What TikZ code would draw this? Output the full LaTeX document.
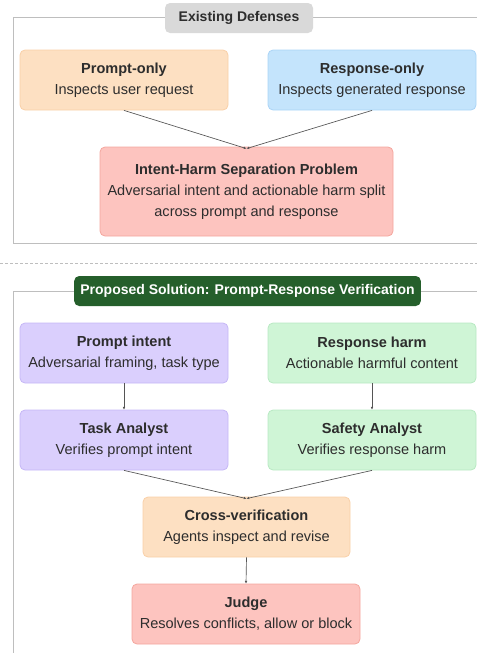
\documentclass[tikz,border=0pt]{standalone}
\usepackage{fontspec}
\setmainfont{Liberation Sans}
\usetikzlibrary{arrows.meta}

\definecolor{frameGray}{RGB}{190,190,190}
\definecolor{textDark}{RGB}{45,45,45}
\definecolor{titleGray}{RGB}{217,217,217}
\definecolor{peachFill}{RGB}{253,224,194}
\definecolor{peachLine}{RGB}{249,208,168}
\definecolor{blueFill}{RGB}{196,228,252}
\definecolor{blueLine}{RGB}{170,212,246}
\definecolor{pinkFill}{RGB}{253,196,191}
\definecolor{pinkLine}{RGB}{244,166,158}
\definecolor{lavFill}{RGB}{218,207,253}
\definecolor{lavLine}{RGB}{198,183,246}
\definecolor{greenFill}{RGB}{207,245,214}
\definecolor{greenLine}{RGB}{184,233,195}
\definecolor{darkGreen}{RGB}{37,95,43}
\definecolor{arrowGray}{RGB}{85,85,85}

\tikzset{
  card/.style={rounded corners=3.75pt, line width=0.6pt, align=center, inner sep=0pt,
    text=textDark, font=\fontsize{10.9}{15.75}\selectfont,
    execute at begin node={\rule{0pt}{13.5pt}}},
  titlebox/.style={rounded corners=3.75pt, inner sep=0pt, font=\bfseries\fontsize{10.5}{12}\selectfont},
  link/.style={draw=arrowGray, line width=0.5pt, -{Latex[length=2pt,width=2pt]}}
}

\begin{document}
\begin{tikzpicture}[x=0.75pt,y=0.75pt,yscale=-1,xscale=1]
\clip (0,0) rectangle (477,653);
\useasboundingbox (0,0) rectangle (477,653);

%Frame: existing defenses
\draw [color=frameGray, line width=0.75pt] (13.5,17) rectangle (495,243) ;
%Straight Lines: section divider
\draw [color=frameGray, line width=0.75pt, dash pattern={on 2.25pt off 1.5pt}] (0,263) -- (477,263) ;
%Frame: proposed solution
\draw [color=frameGray, line width=0.75pt] (13.5,291) rectangle (495,680) ;

% Title Nodes
\node [titlebox, fill=titleGray, text=textDark, minimum width=111pt, minimum height=22.5pt] (defTitle) at (239,18) {Existing Defenses};
\node [titlebox, fill=darkGreen, text=white, minimum width=260pt, minimum height=22.5pt] (solTitle) at (247.5,291) {Proposed Solution: Prompt-Response Verification};

% Defense Nodes
\node [card, fill=peachFill, draw=peachLine, minimum width=156pt, minimum height=45pt] (promptOnly) at (124,80) {\textbf{Prompt-only}\\Inspects user request};
\node [card, fill=blueFill, draw=blueLine, minimum width=156pt, minimum height=45pt] (respOnly) at (372,80) {\textbf{Response-only}\\Inspects generated response};
\node [card, fill=pinkFill, draw=pinkLine, minimum width=219.75pt, minimum height=66.75pt] (sepProb) at (246.5,191.5) {\textbf{Intent-Harm Separation Problem}\\Adversarial intent and actionable harm split\\across prompt and response};

% Solution Nodes
\node [card, fill=lavFill, draw=lavLine, minimum width=156pt, minimum height=45pt] (promptIntent) at (124,353) {\textbf{Prompt intent}\\Adversarial framing, task type};
\node [card, fill=greenFill, draw=greenLine, minimum width=156pt, minimum height=45pt] (respHarm) at (372,353) {\textbf{Response harm}\\Actionable harmful content};
\node [card, fill=lavFill, draw=lavLine, minimum width=156pt, minimum height=45pt] (taskAnalyst) at (124,440) {\textbf{Task Analyst}\\Verifies prompt intent};
\node [card, fill=greenFill, draw=greenLine, minimum width=156pt, minimum height=45pt] (safetyAnalyst) at (372,440) {\textbf{Safety Analyst}\\Verifies response harm};
\node [card, fill=peachFill, draw=peachLine, minimum width=155.25pt, minimum height=45pt] (crossVer) at (246.5,527) {\textbf{Cross-verification}\\Agents inspect and revise};
\node [card, fill=pinkFill, draw=pinkLine, minimum width=171pt, minimum height=45pt] (judge) at (246,614) {\textbf{Judge}\\Resolves conflicts, allow or block};

% Connectors
\draw [link] (promptOnly.south) -- ([yshift=1.5pt]sepProb.north) ;
\draw [link] (respOnly.south) -- ([yshift=1.5pt]sepProb.north) ;
\draw [link] (promptIntent.south) -- (taskAnalyst.north) ;
\draw [link] (respHarm.south) -- (safetyAnalyst.north) ;
\draw [link] (taskAnalyst.south) -- ([yshift=1.5pt]crossVer.north) ;
\draw [link] (safetyAnalyst.south) -- ([yshift=1.5pt]crossVer.north) ;
\draw [link] (crossVer.south) -- (judge.north) ;

\end{tikzpicture}
\end{document}
